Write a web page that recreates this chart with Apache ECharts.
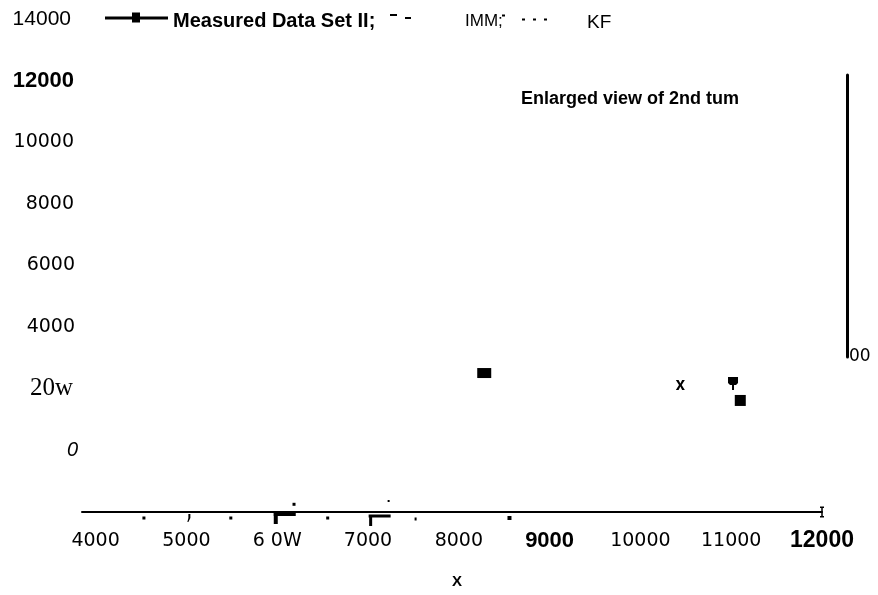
<!DOCTYPE html>
<html><head><meta charset="utf-8">
<script src="https://cdn.jsdelivr.net/npm/echarts@6/dist/echarts.min.js"></script>
<style>html,body{margin:0;padding:0;background:#fff}#c{width:878px;height:595px}</style>
</head><body><div id="c"></div>
<script>
// ---- data ----
const xTickValues = [4000, 5000, 6000, 7000, 8000, 9000, 10000, 11000, 12000];
const xTickLabels = ['4000', '5000', '6 0W', '7000', '8000', '9000', '10000', '11000', '12000'];
const yTickValues = [0, 2000, 4000, 6000, 8000, 10000, 12000, 14000];
const yTickLabels = ['0', '20w', '4000', '6000', '8000', '10000', '12000', '14000'];
const measuredX = [8280, 11020, 11100];
const measuredY = [2510, 2250, 1620];
const immX = [];
const immY = [];
const kfX = [];
const kfY = [];
const crossX = [10440];
const crossY = [2120];
const scanX = [4532, 5027, 5489, 6083, 5984, 6185, 6556, 7227, 7128, 7029, 7524, 8558];
const scanY = [-2195, -2195, -2195, -2065, -2195, -1750, -2195, -1643, -2130, -2276, -2227, -2195];
const insetLabels = ['00'];
const annotation = 'Enlarged view of 2nd tum';
const axisTitle = 'X';

// ---- styles ----
const xLabelStyle = ['d', 'd', 'd', 'd', 'd', 'b', 'd', 'd', 'c'];
const yLabelStyle = ['i', 's', 'e', 'e', 'd', 'd', 'b', 'a'];
const TAIL = 'path://M0,0L10,0L10,6L8,8L6,8L6,13L4,13L4,8L2,8L0,6Z';
const CROSS = 'path://M0,0L3,0L5,3.5L7,0L10,0L6.5,5L10,10L7,10L5,6.5L3,10L0,10L3.5,5Z';
const COMMA = 'path://M1,0L3,0L3,4L1,8L0,8L1,4Z';
const measuredSym = ['rect', TAIL, 'rect'];
const measuredSize = [[14, 10], [10, 13], [11, 11]];
const measuredOff = [[0, 0], [0, 2.5], [0, 0]];
const scanSym = ['rect', COMMA, 'rect', 'rect', 'rect', 'rect', 'rect', 'rect', 'rect', 'rect', 'rect', 'rect'];
const scanSize = [[3,3],[3,8],[3,3],[22,4],[4,12],[3,3],[3,3],[2,2],[22,3],[3,11],[2,3],[4,4]];

const F = {
  sans: 'Liberation Sans',
  dv: 'DejaVu Sans',
  serif: 'Liberation Serif'
};

const chart = echarts.init(document.getElementById('c'), null, {renderer: 'canvas'});

const option = {
  animation: false,
  backgroundColor: '#fff',
  title: {
    text: annotation, left: 521, top: 90, padding: 0,
    textStyle: {fontFamily: F.sans, fontWeight: 'bold', fontSize: 18, color: '#000'}
  },
  legend: [
    {
      data: [{name: 'Measured Data Set II', icon: 'path://M0,4L27,4L27,0L35,0L35,4L63,4L63,7L35,7L35,10L27,10L27,7L0,7Z M0,17L0.01,17L0,17Z'}],
      left: 105, top: 11, padding: 0, itemWidth: 63, itemHeight: 17, selectedMode: false,
      itemStyle: {color: '#000', opacity: 1},
      formatter: n => n + ';',
      textStyle: {fontFamily: F.sans, fontWeight: 'bold', fontSize: 20, color: '#000'}
    },
    {
      data: [{name: 'IMM', icon: 'path://M0,0L7,0L7,2L0,2Z M15,3L21,3L21,5L15,5Z M0,14L0.01,14L0,14Z'}],
      left: 390, top: 12.5, padding: 0, itemWidth: 21, itemHeight: 14, selectedMode: false,
      itemStyle: {color: '#000', opacity: 1},
      formatter: n => n + ';',
      textStyle: {fontFamily: F.sans, fontSize: 17, color: '#000', padding: [0, 0, 0, 49]}
    },
    {
      data: [{name: 'KF', icon: 'path://M0,0L3,0L3,2L0,2Z M20,4L23,4L23,6L20,6Z M31,4L34,4L34,6L31,6Z M42,4L45,4L45,6L42,6Z M0,17L0.01,17L0,17Z'}],
      left: 502, top: 13.5, padding: 0, itemWidth: 45, itemHeight: 17, selectedMode: false,
      itemStyle: {color: '#000', opacity: 1},
      textStyle: {fontFamily: F.sans, fontSize: 19, color: '#000', padding: [0, 0, 0, 35]}
    }
  ],
  grid: [
    {left: 82, right: 56, top: 19, bottom: 83, containLabel: false},
    {left: 847, top: 75, width: 10, height: 282, containLabel: false}
  ],
  xAxis: [
    {
      type: 'value', gridIndex: 0, min: 3850, max: 12000, interval: 50,
      name: axisTitle, nameLocation: 'middle', nameGap: 62,
      nameTextStyle: {fontFamily: F.sans, fontWeight: 'bold', fontSize: 15, color: '#000', padding: [0, 0, 0, 10]},
      axisLine: {show: true, onZero: false, lineStyle: {color: '#000', width: 2},
        symbol: ['none', 'path://M0,0L1.5,0L1.5,1.25L9.5,1.25L9.5,0L11,0L11,4L9.5,4L9.5,2.75L1.5,2.75L1.5,4L0,4Z'],
        symbolSize: [11, 4]},
      axisTick: {show: false},
      splitLine: {show: false},
      axisLabel: {
        margin: 29, verticalAlign: 'middle', showMinLabel: true, showMaxLabel: true,
        formatter: v => {
          const i = xTickValues.indexOf(v);
          return i < 0 ? '' : '{' + xLabelStyle[i] + '|' + xTickLabels[i] + '}';
        },
        rich: {
          d: {fontFamily: F.dv, fontSize: 19, color: '#000'},
          b: {fontFamily: F.sans, fontWeight: 'bold', fontSize: 22, color: '#000'},
          c: {fontFamily: F.sans, fontWeight: 'bold', fontSize: 23, color: '#000'}
        }
      }
    },
    {type: 'value', gridIndex: 1, min: 0, max: 1, show: false}
  ],
  yAxis: [
    {
      type: 'value', gridIndex: 0, min: -2000, max: 14000, interval: 2000,
      axisLine: {show: false}, axisTick: {show: false}, splitLine: {show: false},
      axisLabel: {
        margin: 4,
        formatter: v => {
          const i = yTickValues.indexOf(v);
          return i < 0 ? '' : '{' + yLabelStyle[i] + '|' + yTickLabels[i] + '}';
        },
        rich: {
          a: {fontFamily: F.sans, fontSize: 21, color: '#000', padding: [0, 7, 0, 0]},
          b: {fontFamily: F.sans, fontWeight: 'bold', fontSize: 22, color: '#000', padding: [0, 4, 0, 0]},
          d: {fontFamily: F.dv, fontSize: 19, color: '#000', padding: [0, 4, 0, 0]},
          e: {fontFamily: F.dv, fontSize: 19, color: '#000', padding: [0, 3, 0, 0]},
          s: {fontFamily: F.serif, fontSize: 25, color: '#000', padding: [0, 5, 0, 0]},
          i: {fontFamily: F.sans, fontStyle: 'italic', fontSize: 20, color: '#000', padding: [0, 0, 0, 0]}
        }
      }
    },
    {
      type: 'value', gridIndex: 1, min: 0, max: 1, interval: 1, position: 'left',
      axisLine: {show: true, lineStyle: {color: '#000', width: 3}},
      axisTick: {show: false}, splitLine: {show: false},
      axisLabel: {
        inside: true, margin: 2, verticalAlign: 'middle',
        fontFamily: F.dv, fontSize: 17, color: '#000', padding: [0, 0, 14, 0],
        formatter: v => (v === 0 ? insetLabels[0] : '')
      }
    }
  ],
  series: [
    {
      name: 'Measured Data Set II', type: 'scatter', xAxisIndex: 0, yAxisIndex: 0,
      itemStyle: {color: '#000', opacity: 1}, clip: false,
      data: measuredX.map((x, i) => ({
        value: [x, measuredY[i]], symbol: measuredSym[i],
        symbolSize: measuredSize[i], symbolOffset: measuredOff[i]
      }))
    },
    {
      name: 'IMM', type: 'line', xAxisIndex: 0, yAxisIndex: 0, showSymbol: false,
      itemStyle: {color: '#000'}, lineStyle: {color: '#000', type: 'dashed'},
      data: immX.map((x, i) => [x, immY[i]])
    },
    {
      name: 'KF', type: 'line', xAxisIndex: 0, yAxisIndex: 0, showSymbol: false,
      itemStyle: {color: '#000'}, lineStyle: {color: '#000', type: 'dotted'},
      data: kfX.map((x, i) => [x, kfY[i]])
    },
    {
      name: 'cross', type: 'scatter', xAxisIndex: 0, yAxisIndex: 0, clip: false,
      symbol: CROSS, symbolSize: [9, 10], itemStyle: {color: '#000', opacity: 1},
      data: crossX.map((x, i) => [x, crossY[i]])
    },
    {
      name: 'scan', type: 'scatter', xAxisIndex: 0, yAxisIndex: 0, clip: false,
      itemStyle: {color: '#000', opacity: 1},
      data: scanX.map((x, i) => ({value: [x, scanY[i]], symbol: scanSym[i], symbolSize: scanSize[i]}))
    }
  ]
};
chart.setOption(option);
</script>
</body></html>
